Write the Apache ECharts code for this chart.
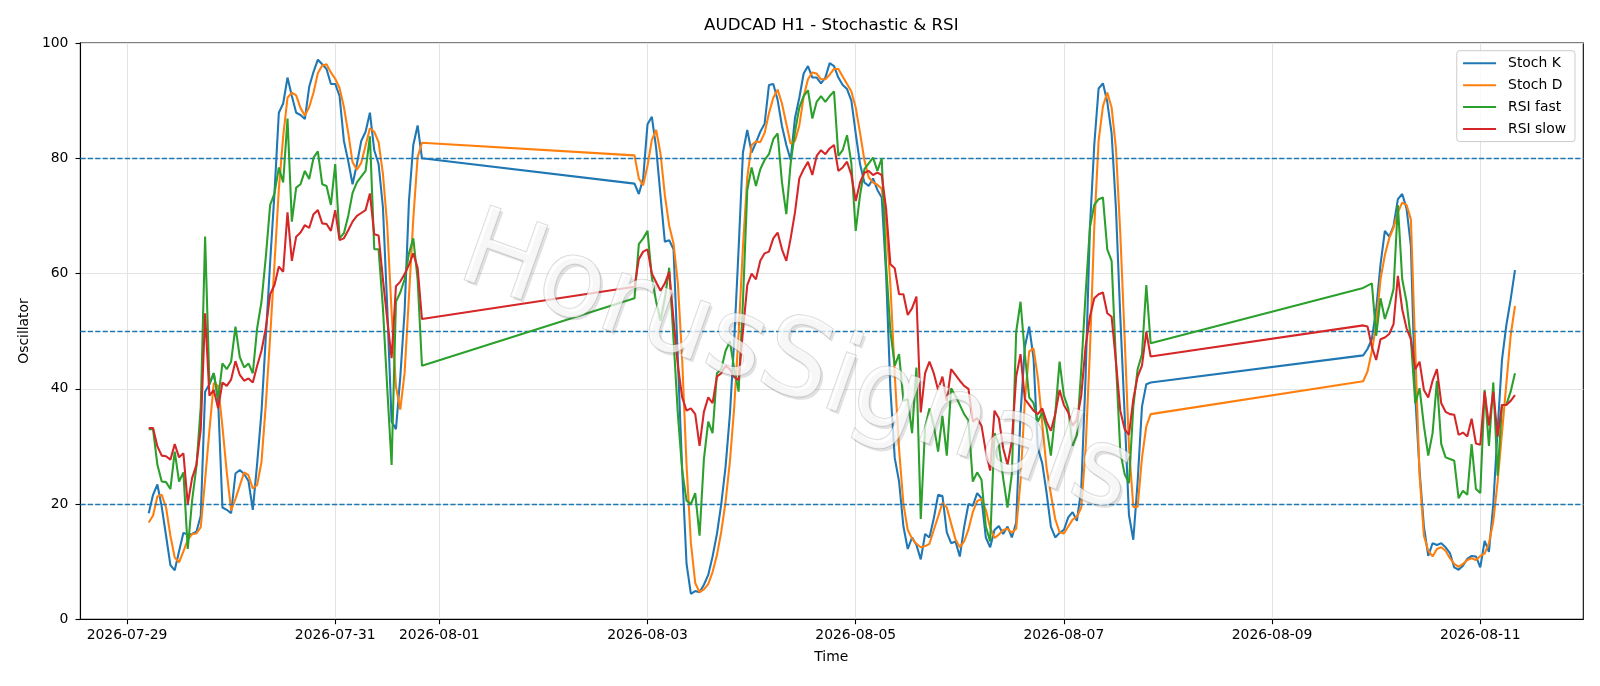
<!DOCTYPE html>
<html><head><meta charset="utf-8">
<script src="https://cdn.jsdelivr.net/npm/echarts@6/dist/echarts.min.js"></script>
<style>html,body{margin:0;padding:0;background:#fff}#chart{width:1600px;height:686px}</style>
</head><body><div id="chart"></div>
<script>
// ---- data (hourly bars, three trading segments) ----
const segmentStarts = ['2026-07-29T05:00:00Z', '2026-08-02T21:00:00Z', '2026-08-09T21:00:00Z'];
const segmentLengths = [64, 120, 36];

const stochK = [
18.4,21.6,23.4,19.5,14.5,9.4,8.5,11.8,15.0,14.7,14.8,15.2,18.0,39.5,40.8,42.7,38.0,19.4,19.0,18.4,25.3,25.9,25.2,24.0,19.0,27.0,36.0,49.0,62.0,74.0,87.9,89.5,94.0,90.8,87.9,87.5,86.8,92.4,95.0,97.1,96.3,95.5,92.9,92.9,90.8,83.0,79.5,75.5,79.0,83.0,84.6,87.9,81.4,79.0,71.5,54.0,34.3,33.0,42.0,53.5,72.6,82.3,85.7,80.0,
75.6,73.8,76.5,85.9,87.2,81.7,73.5,65.5,65.8,64.2,45.0,25.8,9.6,4.4,4.9,4.7,6.0,7.7,10.9,14.8,20.0,26.5,35.6,48.6,64.2,81.0,84.9,81.0,82.7,84.6,86.0,92.7,92.9,90.1,85.6,82.3,79.7,87.0,90.5,94.7,96.0,94.0,94.0,93.0,94.0,96.5,96.0,94.0,92.7,92.0,90.0,84.3,79.0,75.8,75.2,76.5,74.5,73.2,60.0,40.0,28.0,23.9,16.1,12.2,14.2,12.9,10.4,14.8,14.2,17.5,21.6,21.4,15.1,13.2,13.5,10.9,16.0,20.0,19.7,21.9,21.0,14.2,12.5,15.5,16.2,14.8,16.1,14.2,16.8,35.6,47.3,50.8,45.3,29.7,27.1,22.0,16.1,14.2,15.0,15.5,17.7,18.6,17.1,22.6,42.1,68.0,82.3,92.1,93.0,89.8,84.3,71.3,52.5,35.6,18.1,13.8,23.9,36.9,40.8,41.1,
45.8,46.9,48.6,53.8,61.6,67.4,66.4,68.2,72.9,73.8,71.3,64.8,38.8,25.8,16.1,11.0,13.2,12.9,13.2,12.5,11.5,9.0,8.6,9.3,10.5,11.0,10.9,9.0,13.6,11.7,20.0,33.0,45.0,51.0,55.5,60.6
];
const stochD = [
16.8,18.0,21.3,21.6,19.4,14.5,10.7,9.9,11.8,13.8,14.8,14.9,16.0,24.2,32.8,41.0,40.5,33.4,25.5,18.9,20.9,23.2,25.5,25.0,22.7,23.3,27.3,37.3,49.0,61.7,74.6,83.8,90.5,91.4,90.9,88.7,87.4,88.9,91.4,94.8,96.1,96.3,94.9,93.8,92.2,88.9,84.4,79.3,78.0,79.2,82.2,85.2,84.6,82.8,77.3,68.2,53.3,40.4,36.4,42.8,56.0,69.5,80.2,82.7,
80.5,76.5,75.3,78.7,83.2,84.9,80.8,73.6,68.3,65.2,58.3,45.0,26.8,13.3,6.3,4.7,5.2,6.1,8.2,11.1,15.2,20.4,27.4,36.9,49.5,64.6,76.7,82.3,82.9,82.8,84.4,87.8,90.5,91.9,89.5,86.0,82.5,83.0,85.7,90.7,93.7,94.9,94.7,93.7,93.7,94.5,95.5,95.5,94.2,92.9,91.6,88.8,84.4,79.7,76.7,75.8,75.4,74.7,69.2,58.0,42.5,29.5,20.0,15.5,14.0,13.1,12.5,12.7,13.1,15.5,17.8,20.2,19.4,16.6,13.9,12.5,13.5,15.6,18.6,20.5,20.9,19.0,15.9,14.1,14.7,15.5,15.7,15.0,15.7,24.0,38.0,46.5,47.0,41.9,34.0,26.3,21.7,17.4,15.1,14.9,16.1,17.3,17.8,19.4,29.5,46.5,68.0,83.0,89.0,91.4,88.8,81.7,67.0,49.0,30.0,19.5,19.5,28.0,33.5,35.6,
41.3,43.0,46.5,51.2,59.0,63.2,66.1,68.0,70.6,72.3,71.9,69.4,47.0,25.0,14.5,11.9,10.9,12.2,12.5,11.9,10.6,9.6,9.1,9.6,10.3,10.6,10.3,11.0,11.4,13.2,17.0,23.9,32.3,40.8,49.2,54.4
];
const rsiFast = [
33.0,33.0,26.8,23.9,23.8,22.6,29.1,23.9,25.5,12.2,20.6,26.5,36.9,66.4,40.8,42.7,38.2,44.4,43.4,44.7,50.8,45.5,43.7,44.4,42.7,50.5,55.1,62.9,71.9,73.9,78.4,75.8,86.9,69.0,74.9,75.5,77.8,76.4,80.1,81.2,75.5,75.2,71.9,79.0,66.1,67.0,70.0,74.0,75.8,76.8,77.8,83.8,64.2,64.2,54.0,40.0,26.8,55.1,56.7,59.0,63.5,66.1,59.0,44.0,
55.7,65.1,66.1,67.4,59.3,55.1,51.8,55.7,61.0,48.6,35.6,25.8,20.6,20.0,21.9,14.5,27.8,34.3,32.3,42.7,43.4,46.6,48.2,43.4,39.5,55.1,74.5,78.4,75.2,78.1,79.7,80.7,83.3,84.3,75.8,70.3,79.1,84.6,88.8,90.8,91.8,86.9,89.8,90.8,89.8,90.8,91.6,80.4,81.4,84.0,79.1,67.4,73.6,78.1,79.1,80.1,77.8,80.0,61.6,50.0,44.0,46.0,37.9,38.2,32.3,43.7,17.4,33.3,36.6,33.6,29.1,35.3,28.4,40.1,38.8,37.2,35.6,34.5,23.9,25.5,24.2,16.1,13.5,32.3,30.4,24.5,19.4,25.2,49.9,55.1,46.0,38.5,37.5,34.3,35.9,33.3,28.4,35.6,44.7,38.8,36.6,30.1,32.0,43.4,56.4,68.0,71.9,72.9,73.2,64.2,62.2,44.7,29.1,25.2,23.6,36.9,43.4,46.0,58.0,47.9,
57.5,57.9,58.3,49.2,55.7,52.1,54.4,57.3,71.9,59.0,55.1,48.6,37.5,40.1,33.6,28.4,32.3,41.4,30.4,28.1,27.8,27.5,21.0,22.3,21.6,30.4,22.6,21.9,39.8,30.1,41.1,24.9,37.2,37.2,39.5,42.7
];
const rsiSlow = [
33.2,33.2,30.0,28.4,28.3,27.7,30.4,28.1,28.8,20.0,24.5,26.8,33.0,53.1,38.8,39.8,36.6,41.1,40.5,41.6,44.8,42.4,41.4,41.8,41.1,44.0,46.6,50.5,56.4,58.0,61.2,60.3,70.6,62.2,66.4,67.1,68.4,67.9,70.3,71.0,68.7,68.6,67.4,71.0,65.8,66.1,67.5,69.0,70.0,70.5,71.0,73.9,66.8,66.6,59.0,52.0,45.3,57.8,58.6,59.9,61.5,63.5,61.0,52.1,
57.7,62.5,63.8,64.2,60.0,58.5,57.0,58.3,60.3,52.0,44.0,38.5,36.2,36.6,35.6,30.1,36.0,38.5,37.5,42.1,42.7,44.0,43.4,42.0,41.5,50.0,58.0,60.0,59.0,62.2,63.5,63.8,66.1,67.1,64.2,62.2,66.1,70.6,76.5,78.1,79.4,77.1,80.4,81.4,80.7,81.7,82.3,77.8,78.4,79.4,77.1,72.6,75.8,77.5,77.8,77.1,77.5,77.1,71.3,61.6,60.9,56.4,56.4,52.8,54.0,56.0,35.9,42.7,44.7,42.7,39.8,42.1,37.9,43.4,42.4,41.4,40.5,40.0,34.3,34.9,33.6,29.1,25.8,36.2,34.9,29.7,26.8,30.9,42.1,46.0,38.2,37.2,36.2,35.6,36.6,34.3,32.7,35.6,39.8,37.2,35.9,33.6,34.6,38.8,47.3,52.5,55.7,56.4,56.7,53.1,52.5,44.7,36.2,33.0,32.0,38.2,42.1,44.0,49.9,45.6,
51.0,50.8,47.3,45.0,48.6,48.9,49.5,51.2,59.6,53.8,50.5,48.6,43.4,44.7,39.8,38.5,41.4,43.4,37.5,36.0,35.6,35.5,32.0,32.4,31.7,34.8,30.5,30.3,39.5,33.6,39.5,31.7,37.2,37.2,37.9,38.9
];
const seriesNames = ['Stoch K', 'Stoch D', 'RSI fast', 'RSI slow'];
const seriesColors = ['#1f77b4', '#ff7f0e', '#2ca02c', '#d62728'];
const tickDates = ['2026-07-29', '2026-07-31', '2026-08-01', '2026-08-03', '2026-08-05', '2026-08-07', '2026-08-09', '2026-08-11'];
const guideLevels = [20, 50, 80];

// ---- build x positions (hours since 2026-07-29 00:00 UTC) ----
const ORIGIN = Date.UTC(2026, 6, 29);
const HOUR = 3600e3;
const hours = [];
segmentStarts.forEach((s, i) => {
  const h0 = (Date.parse(s) - ORIGIN) / HOUR;
  for (let j = 0; j < segmentLengths[i]; j++) hours.push(h0 + j);
});
const tickHours = tickDates.map(d => (Date.parse(d + 'T00:00:00Z') - ORIGIN) / HOUR);
const span = hours[hours.length - 1] - hours[0];
const xMin = hours[0] - 0.05 * span, xMax = hours[hours.length - 1] + 0.05 * span;

const FONT = 'DejaVu Sans';
const values = [stochK, stochD, rsiFast, rsiSlow];
const series = values.map((vals, k) => ({
  name: seriesNames[k], type: 'line', symbol: 'line', showSymbol: false, smooth: false,
  data: vals.map((v, i) => [hours[i], v]),
  lineStyle: { width: 2.08, color: seriesColors[k] },
  itemStyle: { color: seriesColors[k] },
  z: 3 + k
}));
series.push({
  name: 'guides', type: 'line', data: [], z: 10,
  markLine: {
    silent: true, symbol: 'none', animation: false,
    label: { show: false },
    lineStyle: { color: '#1f77b4', type: [5.2, 2.2], width: 1.39 },
    data: guideLevels.map(v => ({ yAxis: v }))
  }
});

const chart = echarts.init(document.getElementById('chart'), null, { renderer: 'canvas' });
const wmRot = -19.5 * Math.PI / 180;
const wmStyle = { text: 'HorusSignals', fontFamily: FONT, fontSize: 108, align: 'center', verticalAlign: 'middle' };
chart.setOption({
  animation: false,
  backgroundColor: '#ffffff',
  grid: { left: 80.4, right: 16.7, top: 43, bottom: 66.7, show: true, borderColor: '#000', borderWidth: 1.1, containLabel: false, outerBoundsMode: 'none' },
  xAxis: {
    type: 'value', min: xMin, max: xMax,
    axisLine: { show: true, onZero: false, lineStyle: { color: '#000', width: 1.1 } },
    axisTick: { show: true, customValues: tickHours, length: 4.9, lineStyle: { color: '#000', width: 1.1 } },
    axisLabel: { customValues: tickHours, color: '#000', fontFamily: FONT, fontSize: 13.9, margin: 9.5,
      formatter: v => { const i = tickHours.findIndex(t => Math.abs(t - v) < 1e-6); return i >= 0 ? tickDates[i] : ''; } },
    splitLine: { show: true, lineStyle: { color: '#e4e4e4', width: 1.1 } }
  },
  yAxis: {
    type: 'value', min: 0, max: 100, interval: 20,
    axisLine: { show: true, onZero: false, lineStyle: { color: '#000', width: 1.1 } },
    axisTick: { show: true, length: 4.9, lineStyle: { color: '#000', width: 1.1 } },
    axisLabel: { color: '#000', fontFamily: FONT, fontSize: 13.9, margin: 12 },
    splitLine: { show: true, lineStyle: { color: '#e4e4e4', width: 1.1 } }
  },
  legend: {
    data: seriesNames, orient: 'vertical', right: 25, top: 50.7,
    itemWidth: 33, itemHeight: 14, itemGap: 7.9,
    padding: [5.6, 9, 5.6, 5.3],
    backgroundColor: 'rgba(255,255,255,0.8)', borderColor: '#cccccc', borderWidth: 1, borderRadius: 3,
    textStyle: { fontFamily: FONT, fontSize: 13.9, color: '#000', padding: [0, 0, 0, 7] }
  },
  graphic: [
    { type: 'text', x: 831.3, y: 26, silent: true, style: { text: 'AUDCAD H1 - Stochastic & RSI', fontFamily: FONT, fontSize: 16.7, fill: '#000', align: 'center', verticalAlign: 'middle' } },
    { type: 'text', x: 831.3, y: 657, silent: true, style: { text: 'Time', fontFamily: FONT, fontSize: 13.9, fill: '#000', align: 'center', verticalAlign: 'middle' } },
    { type: 'text', x: 24.5, y: 331, rotation: Math.PI / 2, silent: true, style: { text: 'Oscillator', fontFamily: FONT, fontSize: 13.9, fill: '#000', align: 'center', verticalAlign: 'middle' } },
    { type: 'text', x: 798.5, y: 370, rotation: wmRot, z: 100, silent: true, style: Object.assign({ fill: 'rgba(90,90,90,0.18)' }, wmStyle) },
    { type: 'text', x: 796, y: 367, rotation: wmRot, z: 101, silent: true, style: Object.assign({ fill: 'rgba(255,255,255,0.72)', stroke: 'rgba(120,120,120,0.3)', lineWidth: 1.5 }, wmStyle) }
  ],
  series: series
});
</script>
</body></html>
